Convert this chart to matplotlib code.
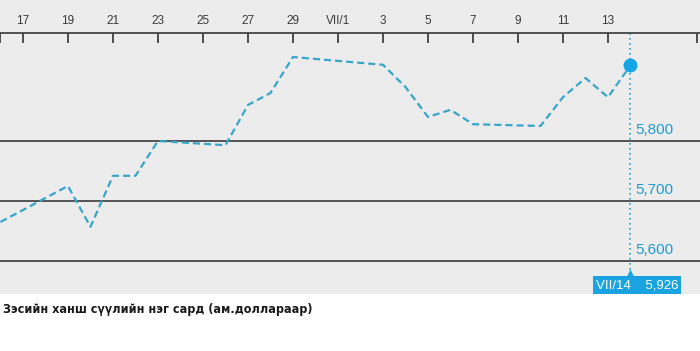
import matplotlib
matplotlib.use("Agg")
import matplotlib.pyplot as plt
import numpy as np
import pandas as pd
import matplotlib.dates as mdates

# ---- data ----
dates = ["2014-06-16", "2014-06-19", "2014-06-20", "2014-06-21", "2014-06-22",
         "2014-06-23", "2014-06-26", "2014-06-27", "2014-06-28", "2014-06-29",
         "2014-07-03", "2014-07-04", "2014-07-05", "2014-07-06", "2014-07-07",
         "2014-07-10", "2014-07-11", "2014-07-12", "2014-07-13", "2014-07-14"]
prices = [5665, 5725, 5657, 5742, 5742,
          5800, 5793, 5860, 5880, 5940,
          5927, 5890, 5840, 5852, 5828,
          5825, 5873, 5905, 5873, 5926]
tick_dates = ["2014-06-16", "2014-06-17", "2014-06-19", "2014-06-21", "2014-06-23",
              "2014-06-25", "2014-06-27", "2014-06-29", "2014-07-01", "2014-07-03",
              "2014-07-05", "2014-07-07", "2014-07-09", "2014-07-11", "2014-07-13"]
tick_labels = ["", "17", "19", "21", "23", "25", "27", "29", "VII/1",
               "3", "5", "7", "9", "11", "13"]
grid_values = [5600, 5700, 5800]
last_label = "VII/14"
title = "Зэсийн ханш сүүлийн нэг сард (ам.доллараар)"

x = mdates.date2num(pd.to_datetime(dates))
xt = list(mdates.date2num(pd.to_datetime(tick_dates)))

fig = plt.figure(figsize=(7.0, 3.51), dpi=100)
fig.patch.set_facecolor("white")
ax = fig.add_axes([0, 57/351, 1, 294/351])
ax.set_facecolor("#ececec")

x0 = x[0]
ax.set_xlim(x0 - 0.02, x0 + 31.09)
ax.set_ylim(5545, 6035)

for s in ["left", "right", "bottom"]:
    ax.spines[s].set_visible(False)
ax.spines["top"].set_position(("data", 5980))
ax.spines["top"].set_color("#444444")
ax.spines["top"].set_linewidth(1.3)
ax.yaxis.set_visible(False)

ax.xaxis.set_ticks_position("top")
ax.xaxis.set_label_position("top")
xt.append(x0 + 30.96)
tick_labels = tick_labels + [""]
ax.set_xticks(xt)
ax.set_xticklabels(tick_labels, fontsize=8.5, color="#3a3a3a",
                   family=["Liberation Sans", "DejaVu Sans"])
ax.tick_params(axis="x", direction="in", length=7.5, width=1.2,
               color="#333333", pad=4)

for v in grid_values:
    ax.axhline(v, color="#3a3a3a", lw=1.2, zorder=1)
    ax.text(x[-1] + 0.2, v + 6, f"{v:,}", color="#1f9bd1", fontsize=11,
            family=["Liberation Sans", "DejaVu Sans"], ha="left", va="bottom")

ax.plot(x, prices, color="#36a6cb", lw=1.6, ls=(0, (3.2, 1.8)), zorder=3)
ax.plot([x[-1]], [prices[-1]], "o", color="#13a5e8", ms=9, zorder=4)

# vertical dotted marker line
ax.plot([x[-1], x[-1]], [5980, 5584], color="#2a9fd0", lw=1.2,
        ls=(0, (1, 2)), zorder=2)

# label box
ax.text(x[-1] + 0.3, 5550, f"{last_label}    {prices[-1]:,}", color="white",
        fontsize=9.5, family=["Liberation Sans", "DejaVu Sans"],
        ha="center", va="bottom",
        bbox=dict(boxstyle="square,pad=0.22", fc="#19a3e1", ec="none"), zorder=5)
ax.plot([x[-1]], [5579], marker="^", color="#19a3e1", ms=7, mec="none", zorder=5)

fig.text(3/700, 1 - 310/351, title, fontsize=9, fontweight="bold",
         fontstretch="condensed",
         family=["DejaVu Sans"], color="#1a1a1a",
         ha="left", va="center")

fig.savefig("out.png", dpi=100, facecolor="white")
